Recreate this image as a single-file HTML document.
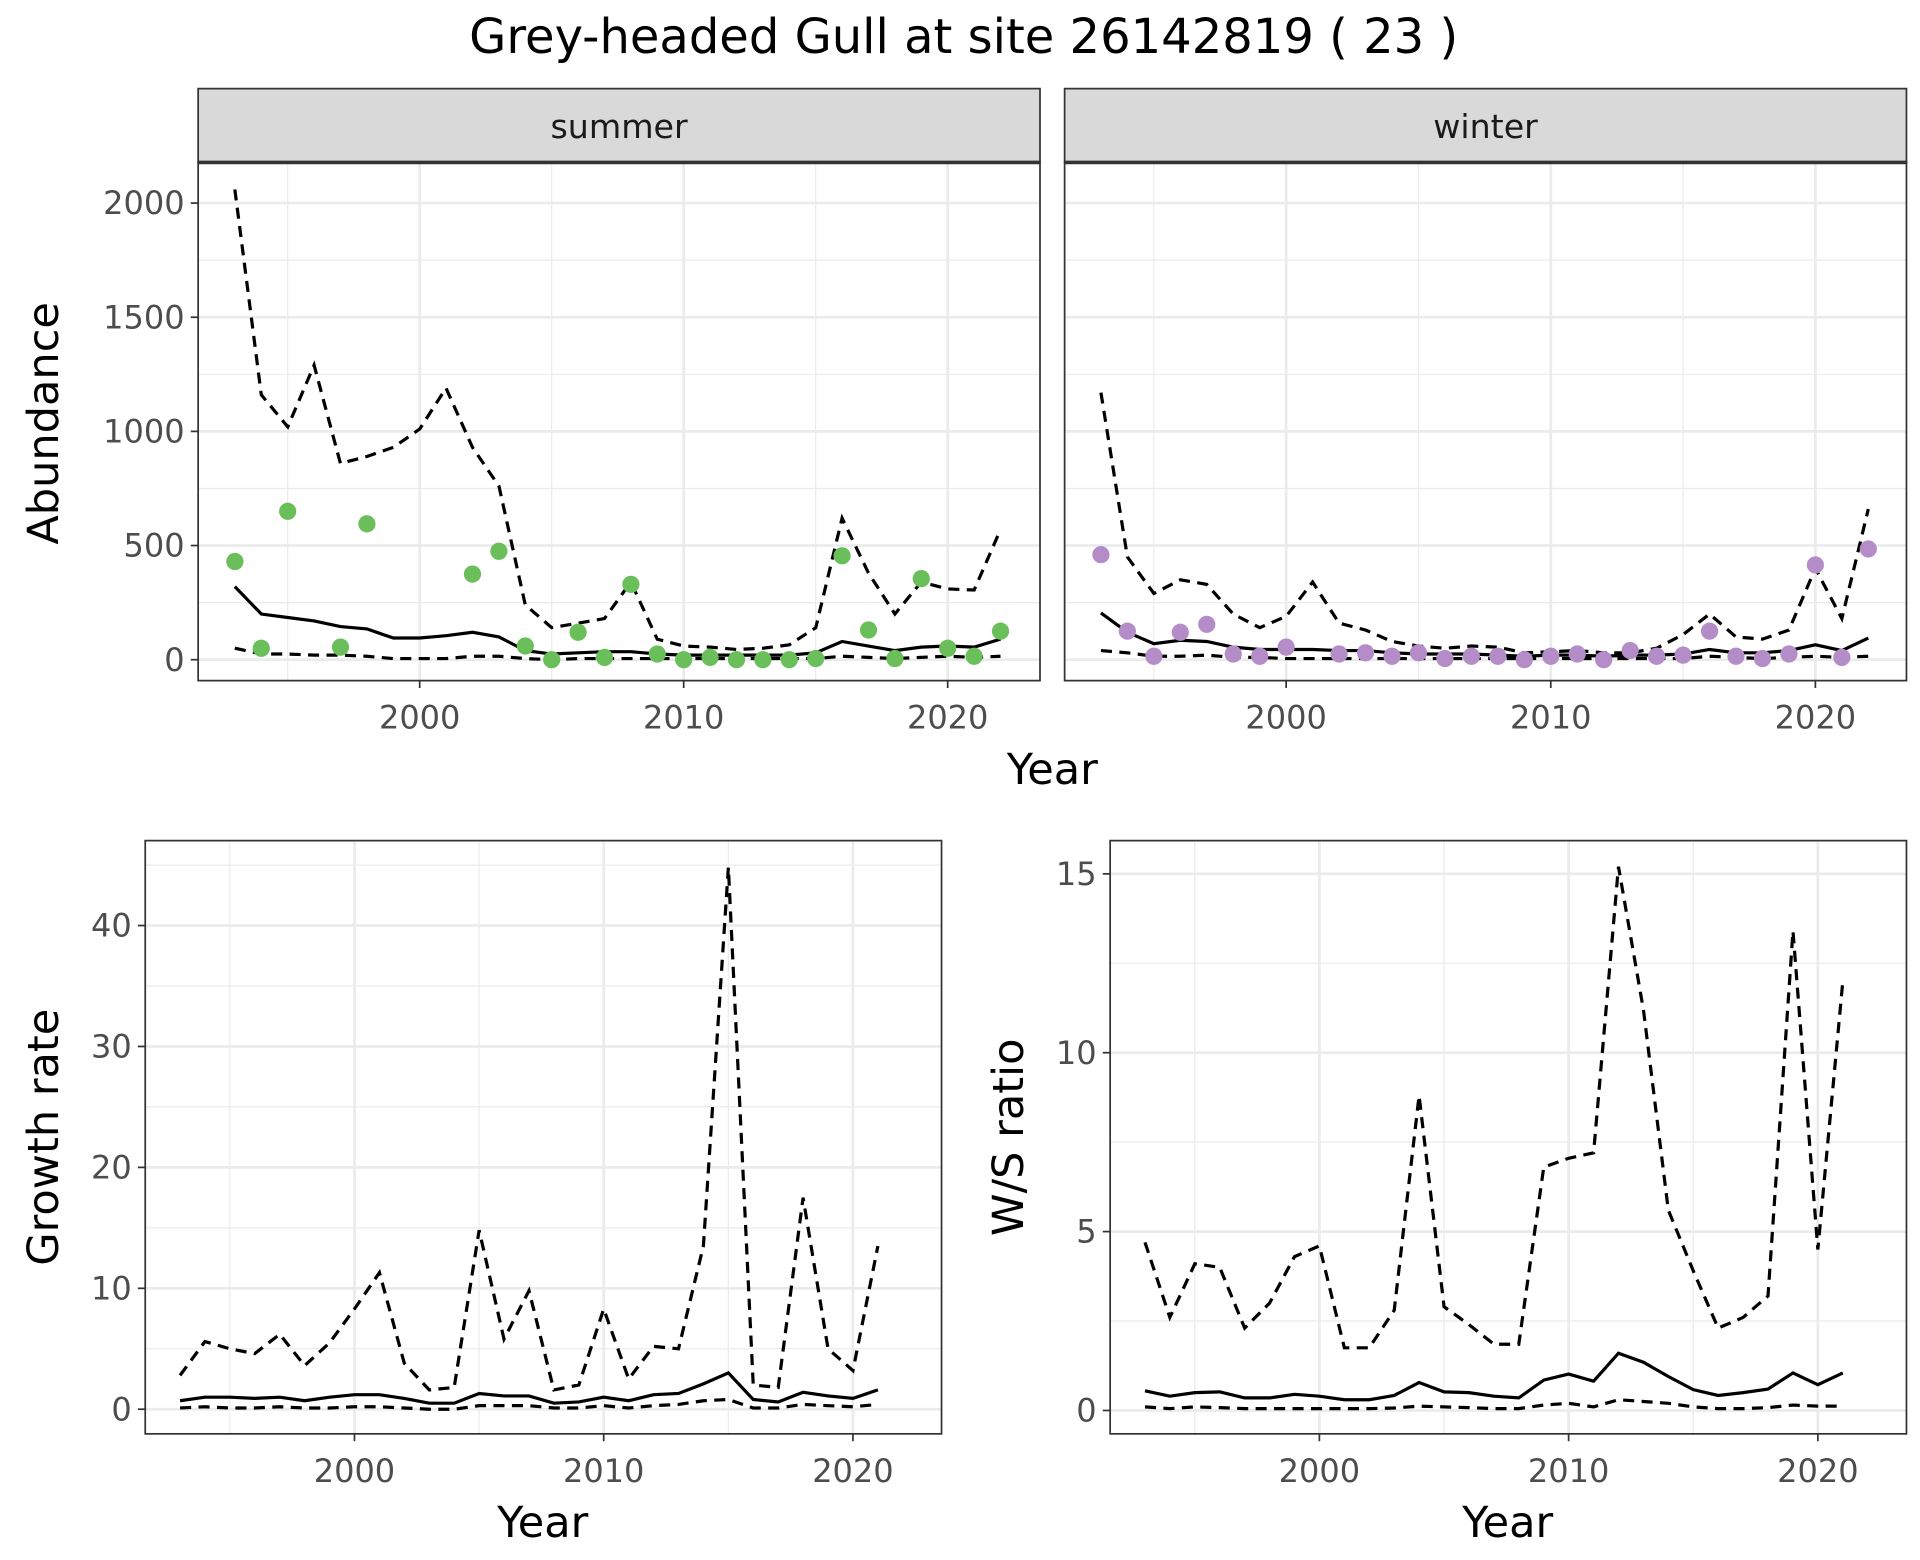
<!DOCTYPE html>
<html><head><meta charset="utf-8"><style>html,body{margin:0;padding:0;background:#fff}svg{display:block}text{font-family:"DejaVu Sans","Liberation Sans",sans-serif}</style></head>
<body>
<svg id="chart" width="1920" height="1560" viewBox="0 0 1560 1267.5" xmlns="http://www.w3.org/2000/svg">
<rect width="1560" height="1267.5" fill="#fff"/>
<text x="783" y="43" font-size="39" text-anchor="middle" fill="#000">Grey-headed Gull at site 26142819 ( 23 )</text>
</svg>
<script>
const yearsA = [1993,1994,1995,1996,1997,1998,1999,2000,2001,2002,2003,2004,2005,2006,2007,2008,2009,2010,2011,2012,2013,2014,2015,2016,2017,2018,2019,2020,2021,2022];
const sumPtsYears = [1993,1994,1995,1997,1998,2002,2003,2004,2005,2006,2007,2008,2009,2010,2011,2012,2013,2014,2015,2016,2017,2018,2019,2020,2021,2022];
const sumPts = [430,50,650,55,595,375,475,60,0,120,10,330,25,0,10,0,0,0,5,455,130,5,355,50,15,125];
const sumMid = [320,200,185,170,145,135,95,95,105,120,100,40,25,30,35,35,25,20,20,20,20,20,30,80,60,40,55,60,55,90];
const sumHi = [2060,1160,1020,1290,860,890,930,1010,1190,930,760,240,140,160,180,340,90,60,55,45,50,65,140,620,380,200,340,310,305,570];
const sumLo = [50,25,25,20,20,15,5,5,5,15,15,5,0,5,5,5,5,5,5,5,5,5,5,15,10,5,10,15,10,15];
const winPtsYears = [1993,1994,1995,1996,1997,1998,1999,2000,2002,2003,2004,2005,2006,2007,2008,2009,2010,2011,2012,2013,2014,2015,2016,2017,2018,2019,2020,2021,2022];
const winPts = [460,125,15,120,155,25,15,55,25,30,15,30,5,15,15,0,15,25,0,40,15,20,125,15,5,25,415,10,485];
const winMid = [205,120,70,85,80,55,45,45,45,40,40,30,25,25,25,20,15,20,20,15,20,20,25,45,30,30,40,65,40,95];
const winHi = [1170,450,290,350,330,200,140,190,340,160,130,80,60,50,60,55,30,35,40,30,30,50,110,200,100,90,130,400,180,660];
const winLo = [40,30,15,15,20,10,10,5,5,5,5,5,5,5,5,5,5,5,5,5,5,5,5,15,10,5,10,15,10,15];
const yearsB = [1993,1994,1995,1996,1997,1998,1999,2000,2001,2002,2003,2004,2005,2006,2007,2008,2009,2010,2011,2012,2013,2014,2015,2016,2017,2018,2019,2020,2021];
const grMid = [0.7,1.0,1.0,0.9,1.0,0.7,1.0,1.2,1.2,0.9,0.5,0.5,1.3,1.1,1.1,0.5,0.6,1.0,0.7,1.2,1.3,2.1,3.0,0.8,0.6,1.4,1.1,0.9,1.6];
const grHi = [2.8,5.6,5.0,4.6,6.2,3.6,5.5,8.3,11.3,3.8,1.6,1.8,14.8,5.8,9.8,1.6,2.0,8.3,2.5,5.2,5.0,13.5,44.8,2.0,1.8,17.5,5.0,3.2,13.5];
const grLo = [0.1,0.2,0.1,0.1,0.2,0.1,0.1,0.2,0.2,0.1,0.0,0.0,0.3,0.3,0.3,0.1,0.1,0.3,0.1,0.3,0.4,0.7,0.8,0.1,0.1,0.4,0.3,0.2,0.4];
const wsMid = [0.55,0.4,0.5,0.52,0.35,0.35,0.45,0.4,0.3,0.3,0.42,0.78,0.52,0.5,0.4,0.35,0.85,1.02,0.82,1.6,1.35,0.95,0.58,0.42,0.5,0.6,1.05,0.72,1.05];
const wsHi = [4.7,2.6,4.1,4.0,2.3,3.0,4.3,4.6,1.75,1.75,2.8,8.8,2.9,2.4,1.85,1.85,6.8,7.05,7.2,15.2,11.2,5.6,3.9,2.3,2.6,3.2,13.4,4.5,12.0];
const wsLo = [0.1,0.05,0.1,0.08,0.05,0.05,0.05,0.05,0.05,0.05,0.07,0.12,0.1,0.08,0.05,0.05,0.15,0.2,0.1,0.3,0.25,0.2,0.1,0.05,0.05,0.08,0.15,0.12,0.12];
const xTicks = [2000,2010,2020];
const abTicks = [0,500,1000,1500,2000];
const grTicks = [0,10,20,30,40];
const wsTicks = [0,5,10,15];

const NS='http://www.w3.org/2000/svg';
const svg=document.getElementById('chart');
function el(tag,attrs,parent){const e=document.createElementNS(NS,tag);for(const k in attrs)e.setAttribute(k,attrs[k]);(parent||svg).appendChild(e);return e;}
function panel(p){
  const g=el('g',{});
  
  
  const sx=v=>p.x0+(v-2000)*(p.x20-p.x0)/20;
  const sy=v=>p.y0-(v)*(p.y0-p.yT)/p.tT;
  el('rect',{x:p.L,y:p.T,width:p.R-p.L,height:p.B-p.T,fill:'#fff'},g);
  for(let yr=1995;yr<=2025;yr+=10){const x=sx(yr);if(x>p.L&&x<p.R)el('line',{x1:x,x2:x,y1:p.T,y2:p.B,stroke:'#ebebeb','stroke-width':1},g);}
  const st=p.ticks[1]-p.ticks[0];
  for(let v=-st/2;v<=p.ticks[p.ticks.length-1]+st;v+=st){const y=sy(v);if(y>p.T&&y<p.B)el('line',{x1:p.L,x2:p.R,y1:y,y2:y,stroke:'#ebebeb','stroke-width':1},g);}
  xTicks.forEach(t=>{const x=sx(t);el('line',{x1:x,x2:x,y1:p.T,y2:p.B,stroke:'#ebebeb','stroke-width':2.2},g);
    if(p.xlab){const tx=el('text',{x:x,y:p.B+39,'font-size':26,'text-anchor':'middle',fill:'#4d4d4d'},g);tx.textContent=t;}
    el('line',{x1:x,x2:x,y1:p.B,y2:p.B+6,stroke:'#333','stroke-width':1.4},g);});
  p.ticks.forEach(t=>{const y=sy(t);el('line',{x1:p.L,x2:p.R,y1:y,y2:y,stroke:'#ebebeb','stroke-width':2.2},g);
    if(p.ylab){const tx=el('text',{x:p.L-11,y:y+9,'font-size':26,'text-anchor':'end',fill:'#4d4d4d'},g);tx.textContent=t;
    el('line',{x1:p.L-6,x2:p.L,y1:y,y2:y,stroke:'#333','stroke-width':1.4},g);}});
  const line=(xs,ys,dash,nm)=>{const d=xs.map((x,i)=>(i?'L':'M')+sx(x).toFixed(1)+' '+sy(ys[i]).toFixed(1)).join(' ');
    const l=el('path',{d:d,fill:'none',stroke:'#000','stroke-width':2.6,'stroke-dasharray':dash?'9,6':'none'},g);
    };
  p.lines.forEach(s=>line(s.x,s.y,s.dash,s.name));
  if(p.pts){p.pts.y.forEach((v,i)=>{const c=el('circle',{cx:sx(p.pts.x[i]),cy:sy(v),r:7,fill:p.pts.col},g);
    });}
  el('rect',{x:p.L,y:p.T,width:p.R-p.L,height:p.B-p.T,fill:'none',stroke:'#333','stroke-width':1.4},g);
  if(p.strip){const sr=el('rect',{x:p.L,y:72,width:p.R-p.L,height:p.T-72,fill:'#d9d9d9',stroke:'#333','stroke-width':1.4},g);
    
    el('line',{x1:p.L,x2:p.R,y1:p.T,y2:p.T,stroke:'#333','stroke-width':3},g);
    const t=el('text',{x:(p.L+p.R)/2,y:112,'font-size':27,'text-anchor':'middle',fill:'#1a1a1a'},g);t.textContent=p.strip;
    }
}
const ab={L:161,R:845,T:132,B:553,y0:536,yT:165,tT:2000,ticks:abTicks,xlab:true};
panel(Object.assign({},ab,{name:'summer-panel',x0:341,x20:770,ylab:true,strip:'summer',
  lines:[{x:yearsA,y:sumHi,dash:true,name:'summer-upper'},{x:yearsA,y:sumLo,dash:true,name:'summer-lower'},{x:yearsA,y:sumMid,dash:false,name:'summer-mean'}],
  pts:{x:sumPtsYears,y:sumPts,col:'#6abf5a'}}));
panel(Object.assign({},ab,{name:'winter-panel',L:865,R:1549,x0:1045,x20:1475,ylab:false,strip:'winter',
  lines:[{x:yearsA,y:winHi,dash:true,name:'winter-upper'},{x:yearsA,y:winLo,dash:true,name:'winter-lower'},{x:yearsA,y:winMid,dash:false,name:'winter-mean'}],
  pts:{x:winPtsYears,y:winPts,col:'#b48cc8'}}));
panel({name:'growth-panel',L:118,R:765,T:683,B:1165,x0:288,x20:693,y0:1145,yT:752,tT:40,ticks:grTicks,xlab:true,ylab:true,
  lines:[{x:yearsB,y:grHi,dash:true,name:'growth-upper'},{x:yearsB,y:grLo,dash:true,name:'growth-lower'},{x:yearsB,y:grMid,dash:false,name:'growth-mean'}]});
panel({name:'ratio-panel',L:902,R:1549,T:683,B:1165,x0:1072,x20:1477,y0:1146,yT:710,tT:15,ticks:wsTicks,xlab:true,ylab:true,
  lines:[{x:yearsB,y:wsHi,dash:true,name:'ratio-upper'},{x:yearsB,y:wsLo,dash:true,name:'ratio-lower'},{x:yearsB,y:wsMid,dash:false,name:'ratio-mean'}]});
function title(txt,x,y,rot,nm){const t=el('text',{x:x,y:y,'font-size':35,'text-anchor':'middle',fill:'#000',transform:rot?`rotate(-90 ${x} ${y})`:''});t.textContent=txt;
  }
title('Year',855,637,false,'x-axis-title-top');
title('Abundance',47,344,true,'y-axis-title-abundance');
title('Year',441,1249,false,'x-axis-title-growth');
title('Growth rate',47,924,true,'y-axis-title-growth');
title('Year',1225,1249,false,'x-axis-title-ratio');
title('W/S ratio',831,924,true,'y-axis-title-ratio');
</script>
</body></html>
